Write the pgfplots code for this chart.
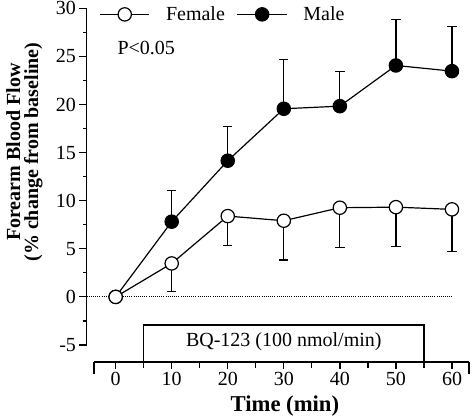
\documentclass[border=0pt]{standalone}
\usepackage{fontspec}
\setmainfont{Liberation Serif}
\usepackage{pgfplots}
\usepackage{pgfplotstable}
\pgfplotsset{compat=1.18}
\pgfplotstableread{
t  f    fe   m     me
0  0    0    0     0
10 3.48 2.91 7.82  3.25
20 8.40 3.05 14.16 3.59
30 7.92 4.09 19.56 5.13
40 9.27 4.16 19.83 3.64
50 9.33 4.05 24.06 4.78
60 9.10 4.40 23.47 4.62
}\data
\begin{document}
\begin{tikzpicture}
\pgfplotsset{every axis/.append style={scale only axis,
  /pgf/number format/assume math mode=true,
  tick style={black, line width=0.9pt},
  axis line style={line width=0.9pt},
  tick align=outside,
  font=\fontsize{15}{17}\selectfont}}
\begin{axis}[at={(65pt,54pt)}, anchor=south west,
  width=286.7pt, height=252.5pt,
  xmin=-5.17, xmax=63.03, ymin=-5, ymax=30,
  axis y line*=left, axis x line=none,
  ytick={-5,0,...,30}, minor y tick num=1,
  major tick length=5.5pt, minor tick length=3pt,
  yticklabel style={xshift=1pt, font=\fontsize{15}{17}\selectfont},
  clip=false,
  every axis y label/.style={at={(rel axis cs:-0.163,0.573)}, rotate=90, anchor=center, align=center, font=\fontsize{15}{13.5}\selectfont\bfseries},
  ylabel={Forearm Blood Flow\\(\% change from baseline)},
  reverse legend,
  legend columns=2,
  legend style={at={(axis cs:-2.93,29.37)}, anchor=west, draw=none, fill=none,
    inner xsep=0pt, inner ysep=0pt,
    nodes={inner sep=0pt, font=\fontsize{15}{17}\selectfont},
    /tikz/every odd column/.append style={column sep=12pt},
    /tikz/every even column/.append style={column sep=9pt}},
  legend image code/.code={\draw[mark repeat=2,mark phase=2] plot coordinates {(0pt,0pt) (18.5pt,0pt) (37pt,0pt)};},
]
\draw[densely dotted, line width=0.6pt] (axis cs:-5.17,0) -- (axis cs:60,0);
\addplot[black, line width=0.9pt, mark=*, mark size=5pt, mark options={fill=black, solid},
  error bars/.cd, y dir=plus, y explicit,
  error bar style={line width=0.9pt},
  error mark options={rotate=90, mark size=3.5pt, line width=0.9pt}]
  table[x=t, y=m, y error=me] {\data};
\addlegendentry{Male}
\addplot[black, line width=0.9pt, mark=*, mark size=5pt, mark options={fill=white, solid},
  error bars/.cd, y dir=minus, y explicit,
  error bar style={line width=0.9pt},
  error mark options={rotate=90, mark size=3.5pt, line width=0.9pt}]
  table[x=t, y=f, y error=fe] {\data};
\addlegendentry{Female}
\draw[line width=0.9pt] (axis cs:5,-6.70) -- (axis cs:5,-2.93) -- (axis cs:55,-2.93) -- (axis cs:55,-6.70);
\node[font=\fontsize{15}{17}\selectfont] at (axis cs:30,-4.65) {BQ-123 (100 nmol/min)};
\node[anchor=west, font=\fontsize{15}{17}\selectfont] at (axis cs:-0.5,25.9) {P<0.05};
\end{axis}
\begin{axis}[at={(70.5pt,41.25pt)}, anchor=south west,
  width=281.25pt, height=10pt,
  xmin=-3.87, xmax=63.03, ymin=0, ymax=1,
  axis x line*=bottom, axis y line=none,
  xtick={0,10,...,60}, minor x tick num=1,
  major tick length=5pt, minor tick length=4.5pt,
  extra x ticks={-3.87,63.03}, extra x tick labels={},
  extra x tick style={major tick length=9pt},
  xticklabel style={yshift=1pt, font=\fontsize{15}{17}\selectfont},
  every axis x label/.style={at={(rel axis cs:0.509,0)}, yshift=-32.75pt, anchor=center, font=\fontsize{17}{19}\selectfont\bfseries},
  xlabel={Time (min)},
]
\end{axis}
\pgfresetboundingbox
\path[use as bounding box] (0,0) rectangle (354pt,312.75pt);
\end{tikzpicture}
\end{document}
